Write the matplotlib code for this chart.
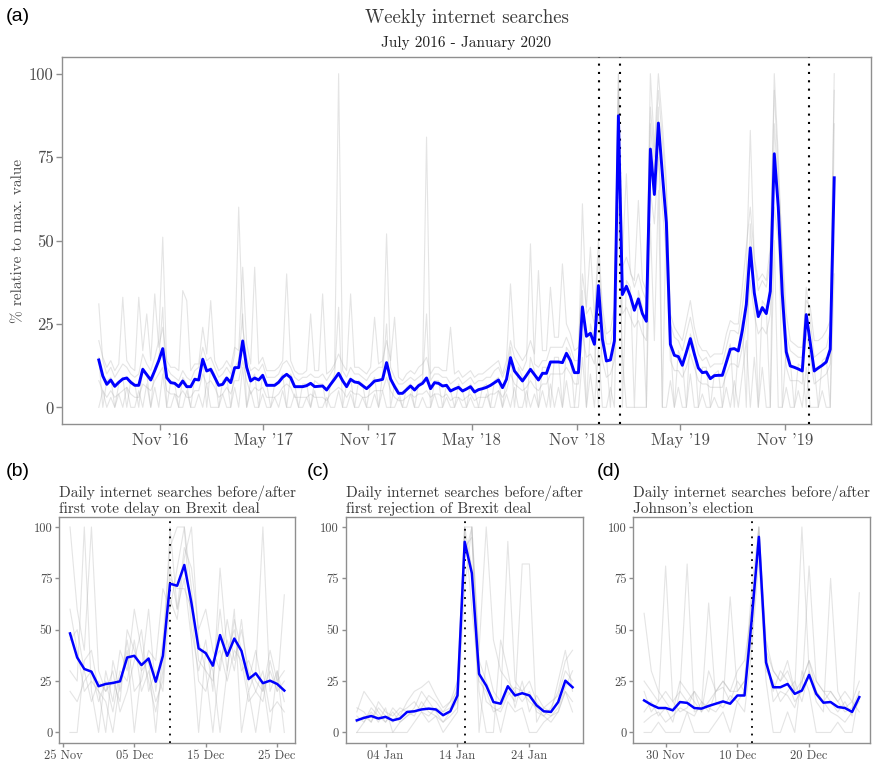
import matplotlib
matplotlib.use('Agg')
import matplotlib.pyplot as plt
import matplotlib.dates as mdates
import pandas as pd

plt.rcParams['font.family'] = ['cmr10', 'DejaVu Serif']
plt.rcParams['axes.formatter.use_mathtext'] = True
plt.rcParams['mathtext.fontset'] = 'cm'

# ---------------- data: weekly (panel a) ----------------
weekly_start = '2016-07-17'
weekly_blue = [
    14.2, 9.4, 6.9, 8.2, 6.3, 7.5, 8.5, 8.8, 7.5, 6.6,
    6.6, 11.4, 9.8, 8.2, 11.0, 14.0, 17.6, 8.9, 7.4, 7.2,
    6.2, 7.9, 6.2, 6.2, 8.4, 8.2, 14.4, 10.9, 11.4, 9.0,
    6.6, 6.9, 8.8, 7.4, 11.9, 11.9, 19.9, 12.0, 7.9, 8.8,
    8.2, 9.6, 6.6, 6.6, 6.6, 7.5, 9.0, 9.9, 8.9, 6.2,
    6.2, 6.2, 6.5, 7.2, 6.2, 6.3, 6.4, 5.2, 6.9, 8.5,
    10.2, 8.0, 6.2, 8.4, 7.6, 7.4, 6.5, 5.6, 6.7, 7.9,
    8.1, 8.4, 13.4, 8.5, 6.2, 4.2, 4.2, 5.3, 6.4, 5.2,
    6.5, 7.2, 8.8, 5.6, 7.4, 7.2, 6.4, 6.6, 4.9, 5.5,
    6.0, 4.9, 5.5, 6.2, 4.6, 5.3, 5.6, 6.0, 6.6, 7.4,
    8.2, 5.9, 8.4, 14.9, 10.9, 9.4, 7.9, 9.6, 11.4, 9.8,
    8.2, 10.2, 10.2, 13.6, 13.6, 13.6, 13.4, 16.2, 14.0, 10.4,
    10.4, 30.1, 21.3, 22.2, 18.9, 36.5, 20.4, 13.9, 14.2, 19.9,
    87.4, 33.8, 36.3, 33.3, 29.1, 32.5, 28.1, 25.8, 77.4, 63.8,
    85.2, 70.0, 55.3, 18.9, 15.6, 15.2, 12.6, 16.5, 20.6, 16.0,
    11.8, 10.4, 10.6, 8.6, 9.5, 9.6, 9.6, 13.5, 17.4, 17.6,
    16.9, 23.0, 30.8, 47.8, 34.3, 27.2, 29.9, 28.1, 34.8, 76.0,
    60.0, 34.0, 16.6, 12.4, 12.0, 11.5, 10.9, 27.8, 19.4, 10.9,
    11.8, 12.6, 13.6, 17.4, 68.8,
]
weekly_grey_text = [
    """31 14 10 12 9 11 13 12 10 9  10 16 13 11 15 20 51 12 10 9
       8 11 9 8 11 12 18 14 15 12  9 10 12 10 16 60 24 15 11 12
       11 13 9 9 9 10 13 14 12 9  8 9 9 10 9 9 10 8 10 12
       100 11 9 12 10 10 9 8 10 11  12 12 52 12 9 7 7 8 9 8
       9 10 81 8 10 10 9 9 7 8  9 7 8 9 7 8 8 9 9 11
       12 9 12 20 15 13 11 14 49 13  12 14 14 18 18 18 18 21 18 14
       14 61 28 30 25 45 27 19 19 26  100 42 45 41 36 40 35 32 100 78
       100 85 68 25 21 20 17 22 27 21  16 14 15 12 13 13 13 18 23 23
       22 30 40 83 44 35 38 36 44 100  75 44 22 17 16 15 15 36 26 15
       16 17 18 23 100""",
    """0 5 0 3 0 4 0 6 0 0  5 0 7 0 6 0 10 0 0 4
       0 0 5 0 0 4 0 7 0 0  0 4 0 0 6 0 12 0 5 0
       0 4 0 0 3 0 5 0 0 4  0 0 3 0 5 0 0 3 0 0
       5 0 0 4 0 0 3 0 0 4  0 5 0 0 0 3 0 0 4 0
       0 3 0 0 4 0 0 3 0 0  3 0 0 3 0 0 0 4 0 0
       5 0 4 0 6 0 0 5 0 4  0 5 0 7 0 6 0 8 0 0
       0 15 0 10 0 18 0 0 6 0  60 15 0 0 0 0 0 0 55 20
       65 0 0 8 0 6 0 0 10 0  0 4 0 0 3 0 0 6 0 8
       0 10 20 0 15 0 12 0 0 50  0 0 6 0 0 5 0 12 0 0
       0 5 0 0 40""",
    """20 15 12 14 11 13 33 14 12 11  33 17 28 14 34 18 24 14 12 12
       11 35 32 11 13 13 24 16 32 14  11 12 14 12 18 17 42 19 13 42
       13 15 11 11 11 12 14 40 14 11  10 10 11 28 11 11 34 10 11 13
       16 13 11 34 12 12 11 10 12 27  13 14 20 14 27 9 8 10 11 10
       12 13 15 10 12 12 11 11 24 10  11 9 10 11 9 10 10 11 12 13
       14 10 14 37 18 16 14 16 20 16  41 17 17 36 21 21 43 25 22 17
       18 40 30 48 27 50 30 22 23 30  95 45 70 40 38 62 38 35 90 75
       95 80 65 28 24 22 20 26 32 24  19 17 17 15 16 16 16 22 26 25
       25 36 48 60 45 38 40 38 48 95  70 48 28 20 19 18 18 32 30 20
       20 21 23 26 95""",
    """8 5 3 5 3 4 5 6 4 3  3 7 6 5 8 10 12 5 4 4
       3 5 3 3 5 5 10 7 8 6  3 4 6 4 8 8 14 8 4 6
       5 6 3 3 3 4 6 7 6 3  3 3 3 4 3 3 3 2 4 5
       6 5 3 5 4 4 3 3 4 5  5 5 9 5 3 2 2 3 4 3
       4 4 5 3 4 4 3 4 2 3  3 2 3 4 2 3 3 3 4 4
       5 3 5 10 7 6 5 6 8 6  5 7 7 10 10 10 10 12 10 7
       7 22 15 16 13 28 14 9 10 14  80 28 30 27 24 26 22 20 65 55
       75 60 45 14 11 11 9 12 16 12  8 7 7 6 6 6 6 10 13 13
       12 18 25 38 28 22 24 22 28 60  50 28 12 8 8 8 7 22 15 7
       8 9 10 13 50""",
    """15 0 8 9 0 7 9 0 8 7  0 12 10 0 12 14 30 0 8 7
       0 9 7 0 9 8 15 0 12 10  0 8 9 0 12 14 28 0 8 10
       0 10 7 0 7 8 10 0 10 7  0 7 7 0 8 7 7 0 7 10
       30 0 7 9 0 8 7 0 7 9  0 10 25 0 7 5 0 6 7 0
       7 8 28 0 8 8 0 7 5 0  7 5 0 7 5 0 6 7 0 8
       9 0 9 18 0 12 9 0 15 11  0 12 12 0 15 15 0 18 16 0
       12 35 0 25 20 0 24 15 0 22  100 0 38 36 0 35 30 0 85 70
       90 0 60 20 0 17 14 0 22 18  0 12 12 0 10 11 0 15 19 0
       18 26 0 55 36 0 32 30 0 85  65 0 18 14 0 13 12 0 20 12
       0 14 15 0 85""",
]
weekly_events = ['2018-12-10', '2019-01-15', '2019-12-12']
weekly_tick_dates = ['2016-11-01', '2017-05-01', '2017-11-01',
                     '2018-05-01', '2018-11-01', '2019-05-01', '2019-11-01']
weekly_tick_labels = ["Nov '16", "May '17", "Nov '17", "May '18",
                      "Nov '18", "May '19", "Nov '19"]

# ---------------- data: daily panels ----------------
b_start = '2018-11-26'
b_blue = [48.2, 36.5, 30.9, 29.6, 22.5, 23.6, 24.1, 24.9, 36.5, 37.3,
          32.8, 36.0, 24.7, 37.3, 72.4, 71.4, 81.5, 63.0, 40.9, 38.6,
          32.5, 47.4, 37.3, 45.7, 39.7, 26.0, 28.8, 24.0, 25.2, 23.6, 20.4]
b_grey_text = [
    "100 60 40 100 30 20 25 15 50 40 30 60 20 45 90 100 100 70 35 30 25 60 30 55 40 20 30 100 20 30 15",
    "30 25 100 20 0 30 15 40 30 60 40 25 10 30 100 60 90 80 50 60 40 30 55 35 50 30 20 15 35 20 67",
    "60 40 20 25 20 0 35 20 45 20 25 40 35 70 60 80 100 50 30 45 20 80 40 50 30 35 25 20 40 25 30",
    "20 15 25 30 15 25 10 30 25 45 20 30 15 25 75 70 70 60 25 20 35 40 25 40 35 15 20 30 10 15 10",
    "45 50 30 15 25 20 30 10 20 35 50 20 30 20 65 55 85 100 45 30 0 35 45 30 55 25 40 20 30 20 25",
    "0 0 35 40 20 15 0 25 40 0 30 35 0 40 80 60 75 45 0 40 30 0 30 60 0 20 0 25 0 30 0",
]
b_event = '2018-12-10'
b_title = "Daily internet searches before/after\nfirst vote delay on Brexit deal"
b_ticks = ['2018-11-25', '2018-12-05', '2018-12-15', '2018-12-25']

c_start = '2018-12-31'
c_blue = [5.9, 7.1, 8.0, 6.8, 7.6, 5.9, 6.8, 10.0, 10.3, 11.2,
          11.6, 11.2, 8.4, 10.3, 18.0, 92.8, 77.5, 28.5, 22.8, 14.8,
          14.0, 22.5, 18.0, 19.1, 18.0, 13.2, 10.3, 10.0, 14.8, 25.2, 22.0]
c_grey_text = [
    "10 20 15 10 5 12 8 15 20 22 25 18 12 15 25 100 100 40 100 45 30 25 20 15 20 10 8 12 20 35 40",
    "0 5 10 5 12 0 5 8 12 20 15 10 5 8 12 85 100 0 35 20 15 93 25 20 15 12 8 5 10 20 15",
    "5 8 5 12 8 5 10 12 15 10 8 12 10 15 20 100 60 25 20 10 12 20 15 82 82 5 12 15 18 30 25",
    "8 5 12 8 5 10 5 8 10 12 18 15 10 12 22 90 95 30 15 12 10 18 22 20 25 15 10 8 12 22 30",
    "12 10 5 15 10 8 12 10 8 15 10 8 5 10 15 100 80 20 0 0 45 30 12 25 10 18 12 10 25 40 20",
    "0 0 0 0 0 0 0 0 5 10 5 8 0 5 10 70 100 35 25 15 0 15 10 12 0 0 5 8 10 20 10",
]
c_event = '2019-01-15'
c_title = "Daily internet searches before/after\nfirst rejection of Brexit deal"
c_ticks = ['2019-01-04', '2019-01-14', '2019-01-24']

d_start = '2019-11-27'
d_blue = [15.6, 13.5, 11.9, 11.9, 10.8, 14.8, 14.4, 11.9, 11.6, 12.9,
          14.0, 15.1, 14.0, 18.0, 18.0, 55.0, 95.2, 34.1, 22.0, 22.0,
          23.6, 18.8, 20.4, 28.0, 18.8, 14.5, 14.8, 12.4, 11.9, 10.0, 17.2]
d_grey_text = [
    "58 30 20 15 10 25 20 15 10 30 20 25 20 30 35 60 100 40 30 25 30 20 100 30 20 15 20 15 10 12 20",
    "20 10 15 81 15 10 12 20 15 12 10 15 66 20 25 50 100 35 20 30 25 15 20 81 25 20 15 10 15 8 68",
    "10 15 8 12 5 20 82 10 12 63 15 12 18 15 20 65 90 30 25 15 20 25 15 30 15 10 75 20 12 15 10",
    "5 8 10 5 8 12 10 8 15 10 20 22 15 25 20 45 95 40 15 20 18 12 25 35 20 15 10 8 5 10 15",
    "0 0 5 0 0 0 10 0 0 0 5 10 0 15 10 40 85 25 0 0 10 0 30 20 0 0 0 5 0 0 20",
    "25 20 15 20 15 20 15 20 10 15 20 25 20 20 25 70 100 45 30 25 35 20 25 35 25 20 20 15 20 15 25",
]
d_event = '2019-12-12'
d_title = "Daily internet searches before/after\nJohnson's election"
d_ticks = ['2019-11-30', '2019-12-10', '2019-12-20']

y_ticks = [0, 25, 50, 75, 100]

# ---------------- styling ----------------
BLUE = '#0000ff'
GREY = '#adadad'
FRAME = '#8f8f8f'
TXT = '#4d4d4d'
TITLE = '#3a3a3a'


def parse(texts):
    return [[float(v) for v in t.split()] for t in texts]


def style_axes(ax, fs, ticklen):
    for s in ax.spines.values():
        s.set_color(FRAME)
        s.set_linewidth(1.0)
    ax.tick_params(axis='both', colors=FRAME, labelcolor=TXT, labelsize=fs,
                   length=ticklen, width=1.0, pad=2)
    ax.set_ylim(-5, 105)
    ax.set_yticks(y_ticks)
    ax.set_yticklabels([str(t) for t in y_ticks])


def set_xpad(ax, dates):
    lo = mdates.date2num(dates[0])
    hi = mdates.date2num(dates[-1])
    pad = 0.05 * (hi - lo)
    ax.set_xlim(lo - pad, hi + pad)


fig = plt.figure(figsize=(8.76, 7.61), dpi=100)

# ---------------- panel (a) ----------------
axA = fig.add_axes([0.0708, 0.4428, 0.9235, 0.4823])
wdates = pd.date_range(weekly_start, periods=len(weekly_blue), freq='7D')
for g in parse(weekly_grey_text):
    axA.plot(wdates, g, color=GREY, alpha=0.32, lw=0.8, zorder=1)
for ev in weekly_events:
    axA.axvline(pd.Timestamp(ev), color='black', lw=1.5,
                linestyle=(0, (1, 3)), zorder=3)
axA.plot(wdates, weekly_blue, color=BLUE, lw=2.1, zorder=4)
style_axes(axA, 12, 4)
set_xpad(axA, wdates)
axA.set_xticks([pd.Timestamp(t) for t in weekly_tick_dates])
axA.set_xticklabels(weekly_tick_labels)
axA.set_ylabel('% relative to max. value', fontsize=11, color=TXT, labelpad=2.5)
fig.text(0.5325, 0.977, 'Weekly internet searches', ha='center', va='center',
         fontsize=13.5, color=TITLE)
fig.text(0.5325, 0.944, 'July 2016 - January 2020', ha='center', va='center',
         fontsize=11, color='#222222')

# ---------------- panels (b)-(d) ----------------
panels = [
    ([0.0677, 0.024, 0.2691, 0.297], b_start, b_blue, b_grey_text, b_event, b_title, b_ticks),
    ([0.3950, 0.024, 0.2709, 0.297], c_start, c_blue, c_grey_text, c_event, c_title, c_ticks),
    ([0.7230, 0.024, 0.2702, 0.297], d_start, d_blue, d_grey_text, d_event, d_title, d_ticks),
]
for rect, start, blue, grey_text, ev, title, ticks in panels:
    ax = fig.add_axes(rect)
    dd = pd.date_range(start, periods=len(blue), freq='D')
    for g in parse(grey_text):
        ax.plot(dd, g, color=GREY, alpha=0.32, lw=0.8, zorder=1)
    ax.axvline(pd.Timestamp(ev), color='black', lw=1.3,
               linestyle=(0, (1, 3.2)), zorder=3)
    ax.plot(dd, blue, color=BLUE, lw=1.8, zorder=4)
    style_axes(ax, 9, 3)
    set_xpad(ax, dd)
    tks = [pd.Timestamp(t) for t in ticks]
    ax.set_xticks(tks)
    ax.set_xticklabels([t.strftime('%d %b') for t in tks])
    ax.set_title(title, loc='left', fontsize=11, color=TITLE, pad=3,
                 linespacing=1.05)

# ---------------- panel letters ----------------
for x, y, lab in [(0.006, 0.978, '(a)'), (0.006, 0.380, '(b)'),
                  (0.350, 0.380, '(c)'), (0.681, 0.380, '(d)')]:
    fig.text(x, y, lab, fontsize=14, family='Liberation Sans',
             ha='left', va='center', color='black')

fig.savefig('out.png', dpi=100)
